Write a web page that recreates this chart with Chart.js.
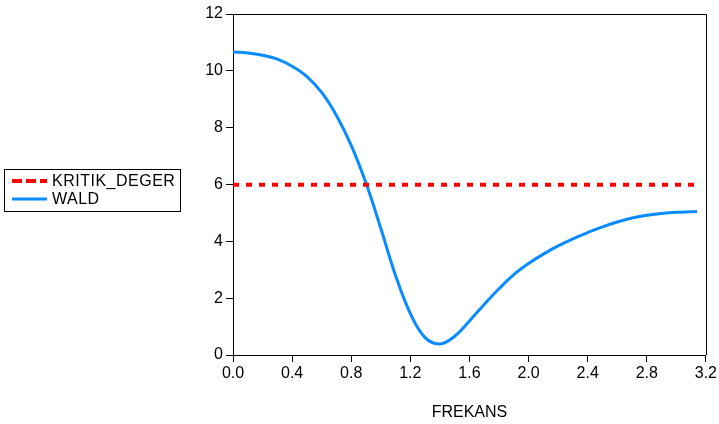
<!DOCTYPE html>
<html>
<head>
<meta charset="utf-8">
<script src="https://cdn.jsdelivr.net/npm/chart.js@4.4.0/dist/chart.umd.min.js"></script>
<style>
  html, body { margin: 0; padding: 0; background: #fff; }
  canvas { display: block; }
</style>
</head>
<body>
<canvas id="grafikWald" width="719" height="424"></canvas>
<script>
// ── Data ────────────────────────────────────────────────
const frekans = [0.00, 0.10, 0.20, 0.30, 0.40, 0.50, 0.60, 0.70, 0.80, 0.90,
                 1.00, 1.10, 1.20, 1.30, 1.40, 1.50, 1.60, 1.70, 1.80, 1.90,
                 2.00, 2.10, 2.20, 2.30, 2.40, 2.50, 2.60, 2.70, 2.80, 2.90,
                 3.00, 3.10, 3.14];
const wald = [10.66, 10.63, 10.55, 10.41, 10.16, 9.80, 9.24, 8.43, 7.38, 6.05,
              4.46, 2.80, 1.46, 0.61, 0.39, 0.66, 1.20, 1.78, 2.33, 2.83,
              3.22, 3.55, 3.84, 4.09, 4.31, 4.51, 4.68, 4.82, 4.92, 4.98,
              5.02, 5.04, 5.05];
const kritikDeger = frekans.map(function () { return 5.99; });
const xTicks = [0.0, 0.4, 0.8, 1.2, 1.6, 2.0, 2.4, 2.8, 3.2];
const yTicks = [0, 2, 4, 6, 8, 10, 12];

const FONT = 'Arial, "Liberation Sans", sans-serif';

function pasangkan(xs, ys) {
    return xs.map(function (x, i) { return { x: x, y: ys[i] }; });
}

// bingkai atas & kanan
const bingkai = {
    id: 'bingkai',
    afterDraw: function (chart) {
        const a = chart.chartArea, c = chart.ctx;
        c.save();
        c.strokeStyle = '#000';
        c.lineWidth = 1;
        c.beginPath();
        c.moveTo(a.left, Math.round(a.top) + 0.5);
        c.lineTo(Math.round(a.right) + 0.5, Math.round(a.top) + 0.5);
        c.lineTo(Math.round(a.right) + 0.5, a.bottom);
        c.stroke();
        c.restore();
    }
};

// legenda kiri dengan kotak
const legendaKotak = {
    id: 'legendaKotak',
    afterDraw: function (chart) {
        const c = chart.ctx;
        c.save();
        c.strokeStyle = '#000';
        c.lineWidth = 1;
        c.strokeRect(4.5, 169.5, 176, 42);
        c.font = '16px ' + FONT;
        c.letterSpacing = '0.5px';
        c.textBaseline = 'middle';
        c.fillStyle = '#000';
        const ys = [181, 199];
        const dashes = [[10, 4], []];
        chart.data.datasets.forEach(function (ds, i) {
            c.beginPath();
            c.strokeStyle = ds.borderColor;
            c.lineWidth = ds.borderWidth;
            c.setLineDash(dashes[i]);
            c.moveTo(12, ys[i]);
            c.lineTo(47, ys[i]);
            c.stroke();
            c.setLineDash([]);
            c.fillText(ds.label, 52, ys[i] + 1);
        });
        c.restore();
    }
};

new Chart(document.getElementById('grafikWald').getContext('2d'), {
    type: 'line',
    data: {
        datasets: [{
            label: 'KRITIK_DEGER',
            data: pasangkan(frekans, kritikDeger),
            borderColor: '#FF0000',
            borderWidth: 4,
            borderDash: [6, 7],
            pointRadius: 0
        }, {
            label: 'WALD',
            data: pasangkan(frekans, wald),
            borderColor: '#0A8BFF',
            borderWidth: 3,
            pointRadius: 0,
            tension: 0.4
        }]
    },
    options: {
        responsive: false,
        animation: false,
        layout: { padding: { left: 0, top: 14, right: 11, bottom: 0 } },
        plugins: { legend: { display: false }, tooltip: { enabled: false } },
        scales: {
            x: {
                type: 'linear', min: 0, max: 3.2,
                afterBuildTicks: function (s) { s.ticks = xTicks.map(function (v) { return { value: v }; }); },
                afterFit: function (s) { s.height = 69; },
                ticks: { color: '#000', font: { family: FONT, size: 16 }, padding: 2, maxRotation: 0,
                         callback: function (v) { return Number(v).toFixed(1); } },
                grid: { drawOnChartArea: false, drawTicks: true, tickLength: 7, color: '#000' },
                border: { color: '#000', width: 1 },
                title: { display: true, text: 'FREKANS', color: '#000',
                         font: { family: FONT, size: 16 }, padding: { top: 0, bottom: 2 } }
            },
            y: {
                min: 0, max: 12,
                afterBuildTicks: function (s) { s.ticks = yTicks.map(function (v) { return { value: v }; }); },
                afterFit: function (s) { s.width = 233; },
                ticks: { color: '#000', font: { family: FONT, size: 16 }, padding: 3 },
                grid: { drawOnChartArea: false, drawTicks: true, tickLength: 7, color: '#000' },
                border: { color: '#000', width: 1 }
            }
        }
    },
    plugins: [bingkai, legendaKotak]
});
</script>
</body>
</html>
